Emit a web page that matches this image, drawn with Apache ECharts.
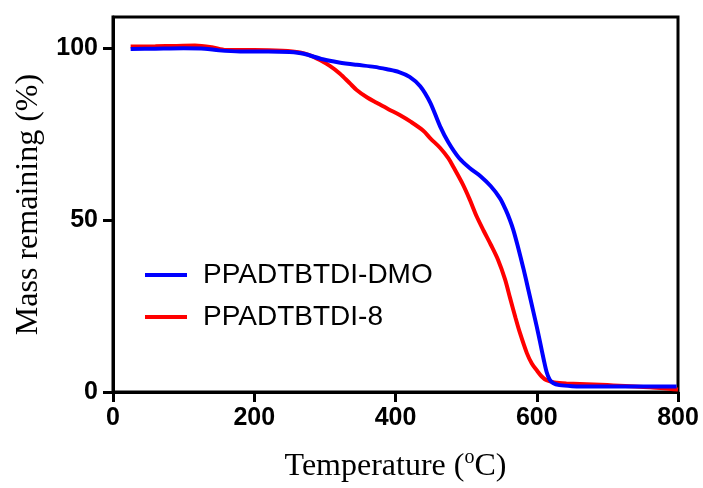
<!DOCTYPE html>
<html>
<head>
<meta charset="utf-8">
<script src="https://cdn.jsdelivr.net/npm/echarts@6/dist/echarts.min.js"></script>
<style>
  html, body { margin: 0; padding: 0; background: #fff; }
  #chart { width: 703px; height: 488px; }
</style>
</head>
<body>
<div id="chart"></div>
<script>
// Thermogravimetric curves: temperature (°C) vs. mass remaining (%)
const seriesNames = ['PPADTBTDI-DMO', 'PPADTBTDI-8'];

const dmoTemp = [25, 60, 100, 130, 150, 180, 220, 250, 270, 297, 320, 345, 370, 388, 405, 420,
  435, 449, 463, 475, 490, 505, 520, 535, 548, 556, 562, 567, 573, 581, 588, 595, 600, 605,
  610, 614, 618, 623, 632, 650, 680, 740, 798];
const dmoMass = [99.7, 99.8, 99.9, 99.8, 99.3, 99.0, 99.0, 98.8, 98.3, 96.7, 95.8, 95.1, 94.5,
  93.8, 93.0, 91.6, 88.9, 84.2, 77.3, 72.5, 68.0, 65.1, 62.8, 59.8, 56.3, 53.0, 50.0, 47.0,
  42.5, 36.0, 29.8, 23.5, 19.0, 14.2, 9.3, 5.8, 3.7, 2.6, 2.0, 1.7, 1.6, 1.6, 1.6];

const c8Temp = [25, 60, 90, 116, 140, 160, 200, 240, 265, 280, 293, 307, 321, 335, 345, 360,
  374, 390, 406, 422, 439, 450, 463, 475, 482, 495, 505, 515, 525, 535, 545, 555, 562, 570,
  576, 586, 593, 600, 607, 614, 625, 642, 700, 760, 790, 800];
const c8Mass = [100.4, 100.5, 100.6, 100.7, 100.2, 99.4, 99.4, 99.2, 98.7, 97.8, 96.5, 94.8,
  92.6, 89.8, 87.8, 85.6, 84.0, 82.2, 80.5, 78.5, 76.0, 73.6, 71.0, 67.9, 65.4, 60.5, 56.0,
  51.0, 46.8, 42.8, 38.5, 32.8, 27.5, 21.5, 17.3, 11.3, 8.3, 6.3, 4.5, 3.4, 2.8, 2.5, 2.0,
  1.4, 0.9, 0.7];

const xTicks = [0, 200, 400, 600, 800];
const yTicks = [0, 50, 100];

const zip = (xs, ys) => xs.map((x, i) => [x, ys[i]]);

const chart = echarts.init(document.getElementById('chart'), null, { renderer: 'canvas' });

const tickLabelStyle = {
  color: '#000',
  fontFamily: 'Liberation Sans, Arial, sans-serif',
  fontWeight: 'bold',
  fontSize: 25
};

chart.setOption({
  animation: false,
  backgroundColor: '#fff',
  grid: {
    left: 113, right: 25, top: 17, bottom: 96,
    show: true, borderColor: '#000', borderWidth: 3, backgroundColor: 'transparent'
  },
  legend: {
    data: seriesNames.map(n => ({ name: n, icon: 'rect' })),
    orient: 'vertical',
    left: 140,
    top: 256,
    itemWidth: 42,
    itemHeight: 4,
    itemGap: 14,
    textStyle: {
      color: '#000',
      fontFamily: 'Liberation Sans, Arial, sans-serif',
      fontSize: 28,
      padding: [0, 0, 0, 11]
    }
  },
  xAxis: {
    type: 'value',
    min: 0, max: 800, interval: 200,
    name: '{a|Temperature (}{s|o}{a|C)}',
    nameLocation: 'middle',
    nameGap: 56,
    nameTextStyle: {
      rich: {
        a: { fontFamily: 'Liberation Serif, Times New Roman, serif', fontSize: 32, color: '#000' },
        s: { fontFamily: 'Liberation Serif, Times New Roman, serif', fontSize: 20, color: '#000', padding: [0, 0, 18, 0] }
      }
    },
    axisLine: { show: true, lineStyle: { color: '#000', width: 3 } },
    axisTick: { show: true, length: 10, lineStyle: { color: '#000', width: 3 }, customValues: xTicks },
    axisLabel: Object.assign({ margin: 14, customValues: xTicks }, tickLabelStyle),
    splitLine: { show: false }
  },
  yAxis: {
    type: 'value',
    min: 0, max: 109,
    name: 'Mass remaining (%)',
    nameLocation: 'middle',
    nameGap: 68,
    nameTextStyle: {
      fontFamily: 'Liberation Serif, Times New Roman, serif',
      fontSize: 32,
      color: '#000'
    },
    axisLine: { show: true, lineStyle: { color: '#000', width: 3 } },
    axisTick: { show: true, length: 10, lineStyle: { color: '#000', width: 3 }, customValues: yTicks },
    axisLabel: Object.assign({ margin: 15, customValues: yTicks }, tickLabelStyle),
    splitLine: { show: false }
  },
  series: [
    {
      name: seriesNames[1],
      type: 'line',
      data: zip(c8Temp, c8Mass),
      showSymbol: false,
      symbol: 'none',
      smooth: 0.3,
      color: '#ff0000',
      lineStyle: { color: '#ff0000', width: 4 }
    },
    {
      name: seriesNames[0],
      type: 'line',
      data: zip(dmoTemp, dmoMass),
      showSymbol: false,
      symbol: 'none',
      smooth: 0.3,
      color: '#0000ff',
      lineStyle: { color: '#0000ff', width: 4 }
    }
  ]
});
</script>
</body>
</html>
